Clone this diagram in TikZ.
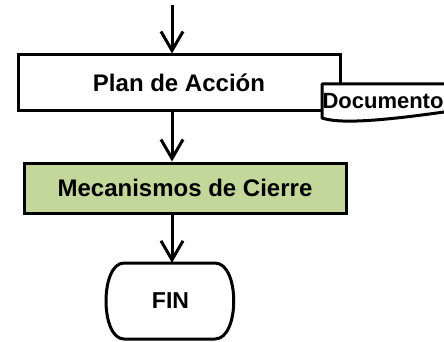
\documentclass[tikz,border=0pt]{standalone}
\usepackage{fontspec}
\setmainfont{Liberation Sans}
\usetikzlibrary{arrows.meta}
\definecolor{boxgreen}{RGB}{196,215,155}
\tikzset{
  flowbox/.style={draw=black, line width=3pt, rectangle, inner sep=0pt, font=\bfseries\fontsize{24}{27}\selectfont},
  flowarrow/.style={line width=3pt, -{Straight Barb[length=19pt,width=22pt,line width=3pt]}},
  outline/.style={draw=black, line width=3pt, line join=round},
}
\begin{document}
\begin{tikzpicture}[x=1pt,y=-1pt]
\useasboundingbox (0,0) rectangle (444,342);
\clip (0,0) rectangle (444,342);
% Plan de Accion
\node[flowbox, fill=white, minimum width=322pt, minimum height=56pt] (plan) at (179,83) {Plan de Acción};
% Document shape
\path[outline, fill=white] (322,84) -- (460,84) -- (460,110) -- (444,112)
  .. controls (380,121) and (340,124) .. (322,118) -- cycle;
\node[font=\bfseries\fontsize{22}{25}\selectfont, inner sep=0pt] (doc) at (383,101) {Documento};
% Mecanismos de Cierre
\node[flowbox, fill=boxgreen, minimum width=322pt, minimum height=50pt] (mec) at (185,188) {Mecanismos de Cierre};
% FIN terminator
\path[outline, fill=white] (124,263) -- (215,263)
  .. controls (240,263) and (240,339) .. (215,339)
  -- (124,339)
  .. controls (100,339) and (100,263) .. (124,263) -- cycle;
\node[font=\bfseries\fontsize{23}{26}\selectfont, inner sep=0pt, minimum width=128pt, minimum height=76pt] (fin) at (170.5,301) {FIN};
% connectors
\coordinate (start) at (172,5);
\draw[flowarrow] (start) -- (start |- plan.north);
\draw[flowarrow] (plan.south -| start) -- (start |- mec.north);
\draw[flowarrow] (mec.south -| start) -- (start |- fin.north);
\end{tikzpicture}
\end{document}
